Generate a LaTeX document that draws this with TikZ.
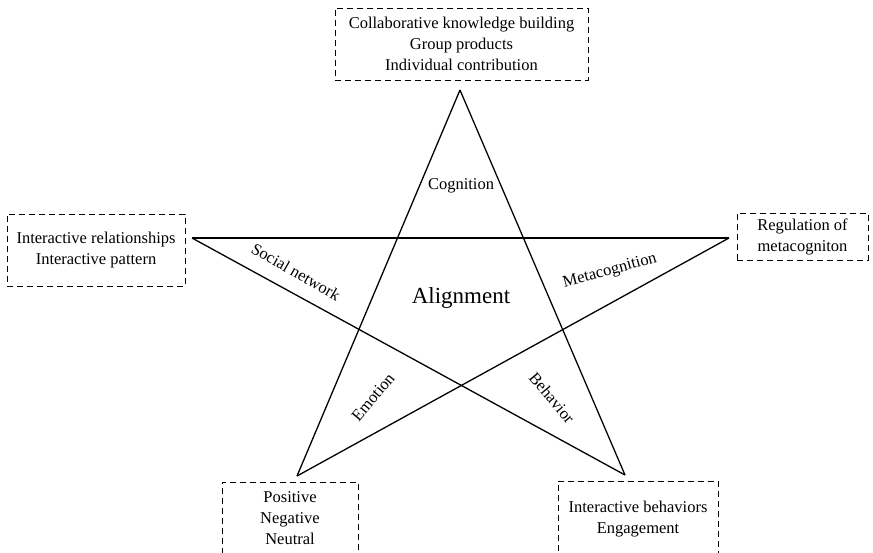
\documentclass[tikz,border=0pt]{standalone}
\usepackage{fontspec}
\setmainfont{Liberation Serif}
\begin{document}
\begin{tikzpicture}[x=1pt,y=-1pt,
  every node/.style={font=\fontsize{16.5}{21}\selectfont, inner sep=0pt},
  starline/.style={line width=1.3pt, line join=miter},
  infobox/.style={draw, dashed, dash pattern=on 6pt off 4pt, line width=0.9pt,
                  align=center, minimum height=72pt},
  dimlabel/.style={font=\fontsize{16.5}{21}\selectfont}
]
\useasboundingbox (0,0) rectangle (873,553);
\clip (0,0) rectangle (873,553);

% star vertices
\coordinate (T)  at (460,90);
\coordinate (L)  at (192,238);
\coordinate (R)  at (729,238);
\coordinate (BL) at (297,476);
\coordinate (BR) at (625,475);

% pentagram
\draw[starline] (T) -- (BL);
\draw[starline] (T) -- (BR);
\draw[starline] (L) -- (R);
\draw[starline] (L) -- (BR);
\draw[starline] (R) -- (BL);

% dimension labels
\node[dimlabel] (cog) at (461,186) {Cognition};
\node[dimlabel, rotate=-30] (soc) at (296,272) {Social network};
\node[dimlabel, rotate=15] (meta) at (610,271) {Metacognition};
\node[dimlabel, rotate=50] (emo) at (373,397) {Emotion};
\node[dimlabel, rotate=-50] (beh) at (552,398) {Behavior};
\node[font=\fontsize{23}{28}\selectfont] (align) at (461,298) {Alignment};

% indicator boxes
\node[infobox, minimum width=253pt] (cogbox) at (461.5,44)
  {Collaborative knowledge building\\Group products\\Individual contribution};
\node[infobox, minimum width=178pt] (socbox) at (96,250)
  {Interactive relationships\\Interactive pattern};
\node[infobox, minimum width=131pt, minimum height=47pt] (metabox) at (802.5,236.5)
  {Regulation of\\metacogniton};
\node[infobox, minimum width=136pt] (emobox) at (290,518)
  {Positive\\Negative\\Neutral};
\node[infobox, minimum width=160pt, minimum height=76pt] (behbox) at (638,519)
  {Interactive behaviors\\Engagement};
\end{tikzpicture}
\end{document}
